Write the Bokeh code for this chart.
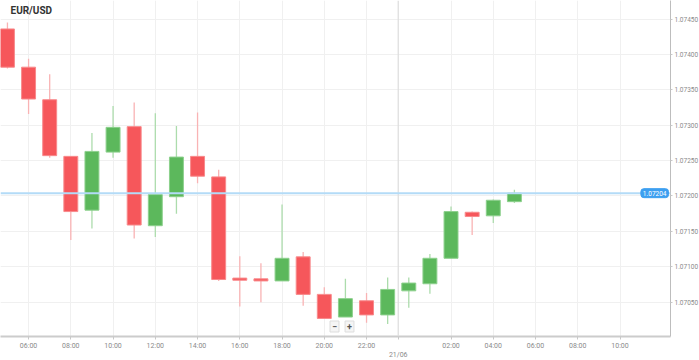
from bokeh.plotting import figure
from bokeh.models import (Range1d, FixedTicker, NumeralTickFormatter, Span, Label,
                          ColumnDataSource)
from bokeh.embed import file_html
from bokeh.resources import INLINE

# hourly candles, x = hour counted from 00:00 of 20/06 (24 = 00:00 of 21/06)
hours = [5, 6, 7, 8, 9, 10, 11, 12, 13, 14, 15, 16, 17, 18, 19, 20, 21, 22, 23,
         24, 25, 26, 27, 28, 29]
opens = [1.07436, 1.07382, 1.07336, 1.07256, 1.07180, 1.07262, 1.07298, 1.07158,
         1.07199, 1.07256, 1.07227, 1.07084, 1.07083, 1.07080, 1.07114, 1.07061,
         1.07029, 1.07052, 1.07032, 1.07066, 1.07076, 1.07112, 1.07177, 1.07172,
         1.07192]
highs = [1.07445, 1.07394, 1.07372, 1.07256, 1.07289, 1.07327, 1.07332, 1.07317,
         1.07299, 1.07318, 1.07237, 1.07115, 1.07105, 1.07188, 1.07121, 1.07071,
         1.07083, 1.07063, 1.07085, 1.07085, 1.07118, 1.07185, 1.07178, 1.07195,
         1.07209]
lows = [1.07380, 1.07316, 1.07254, 1.07138, 1.07154, 1.07254, 1.07140, 1.07142,
        1.07175, 1.07218, 1.07080, 1.07044, 1.07050, 1.07080, 1.07045, 1.07027,
        1.07029, 1.07021, 1.07019, 1.07042, 1.07062, 1.07112, 1.07145, 1.07162,
        1.07190]
closes = [1.07382, 1.07337, 1.07257, 1.07178, 1.07263, 1.07297, 1.07159, 1.07202,
          1.07255, 1.07228, 1.07082, 1.07081, 1.07080, 1.07112, 1.07061, 1.07027,
          1.07055, 1.07032, 1.07068, 1.07077, 1.07112, 1.07178, 1.07171, 1.07194,
          1.07204]

current_price = 1.07204
title_text = "EUR/USD"
tick_hours = [6, 8, 10, 12, 14, 16, 18, 20, 22, 23.5, 26, 28, 30, 32, 34]
tick_labels = ["06:00", "08:00", "10:00", "12:00", "14:00", "16:00", "18:00",
               "20:00", "22:00", "\n21/06", "02:00", "04:00", "06:00", "08:00",
               "10:00"]
grid_hours = [6, 8, 10, 12, 14, 16, 18, 20, 22, 26, 28, 30, 32, 34]
day_break = 23.5
price_ticks = [1.0705, 1.0710, 1.0715, 1.0720, 1.0725, 1.0730, 1.0735, 1.0740, 1.0745]

RED = "#f6575b"
RED_EDGE = "#f88a8c"
RED_WICK = "#f9b3b4"
GREEN = "#5cb85c"
GREEN_EDGE = "#8dd08d"
GREEN_WICK = "#acdcac"

FW, FH = 670, 336

up = [c >= o for o, c in zip(opens, closes)]
src = ColumnDataSource(dict(
    x=hours,
    top=[max(o, c) for o, c in zip(opens, closes)],
    bottom=[min(o, c) for o, c in zip(opens, closes)],
    high=highs, low=lows,
    fill=[GREEN if u else RED for u in up],
    edge=[GREEN_EDGE if u else RED_EDGE for u in up],
    wick=[GREEN_WICK if u else RED_WICK for u in up],
))

p = figure(frame_width=FW, frame_height=FH, output_backend="svg",
           toolbar_location=None, y_axis_location="right",
           x_range=Range1d(4.671, 36.39), y_range=Range1d(1.070015, 1.074762),
           min_border_left=0, min_border_top=0, min_border_bottom=0,
           min_border_right=0)
p.outline_line_color = None
p.background_fill_color = "white"

# grid
p.xgrid.ticker = FixedTicker(ticks=grid_hours)
p.xgrid.grid_line_color = "#f0f0f0"
p.ygrid.ticker = FixedTicker(ticks=price_ticks)
p.ygrid.grid_line_color = "#f0f0f0"

p.add_layout(Span(location=day_break, dimension="height",
                  line_color="#dcdcdc", line_width=1.2))

# candles
p.segment(x0="x", x1="x", y0="low", y1="high", source=src,
          line_color="wick", line_width=1.3)
p.vbar(x="x", top="top", bottom="bottom", width=0.66, source=src,
       fill_color="fill", line_color="edge", line_width=1)

# current price line
p.add_layout(Span(location=current_price, dimension="width",
                  line_color="#b3dbf7", line_width=2))

# axes
xa = p.xaxis[0]
xa.ticker = FixedTicker(ticks=tick_hours)
xa.major_label_overrides = {t: l for t, l in zip(tick_hours, tick_labels)}
xa.axis_line_color = "#cccccc"
xa.axis_line_width = 2
xa.major_tick_line_color = "#c8c8c8"
xa.major_tick_out = 3
xa.major_tick_in = 0
xa.minor_tick_line_color = None
xa.major_label_text_font_size = "7px"
xa.major_label_text_color = "#8a8a8a"
xa.major_label_text_font = "Roboto"
xa.major_label_standoff = 2

ya = p.yaxis[0]
ya.ticker = FixedTicker(ticks=price_ticks)
ya.formatter = NumeralTickFormatter(format="0.00000")
ya.axis_line_color = "#bdbdbd"
ya.major_tick_line_color = "#c8c8c8"
ya.major_tick_out = 2
ya.major_tick_in = 0
ya.minor_tick_line_color = None
ya.major_label_text_font_size = "6.5px"
ya.major_label_text_color = "#8a8a8a"
ya.major_label_text_font = "Roboto"
ya.major_label_standoff = 2

# title
p.add_layout(Label(x=10, y=FH - 10, x_units="screen", y_units="screen",
                   text=title_text, text_font="Roboto", text_font_style="bold",
                   text_font_size="10px", text_color="#333333",
                   text_baseline="middle"))

# current price tag at the right edge of the plot area
p.add_layout(Label(x=FW - 2, y=current_price,
                   x_units="screen", y_units="data",
                   text=f"{current_price:.5f}", text_font="Roboto",
                   text_font_size="6.5px", text_color="white",
                   text_align="right", text_baseline="middle",
                   background_fill_color="#3d9ff0",
                   border_line_color="#3d9ff0",
                   padding=2, border_radius=3))

# zoom buttons
for i, sym in enumerate(["\u2212", "+"]):
    p.add_layout(Label(x=334 + i * 15, y=10, x_units="screen", y_units="screen",
                       text=sym, text_font="Roboto", text_font_size="9px",
                       text_color="#555555", text_font_style="bold",
                       text_align="center", text_baseline="middle",
                       background_fill_color="#f5f5f5",
                       border_line_color="#dddddd", padding=2))

open("out.html", "w").write(file_html(p, INLINE))
